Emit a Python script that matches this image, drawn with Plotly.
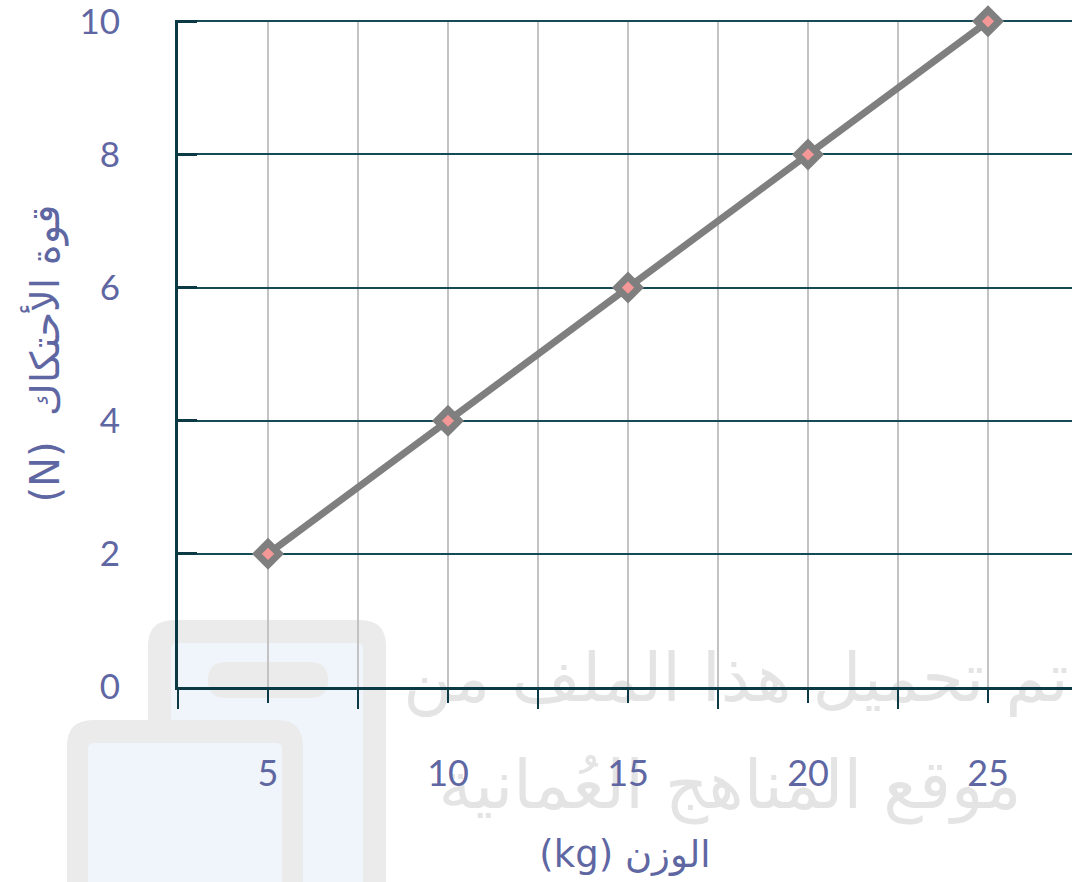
import plotly.graph_objects as go

# ---- data ----
weight_kg = [5, 10, 15, 20, 25]
friction_n = [2, 4, 6, 8, 10]
x_title = "(kg) الوزن"
y_title = "(N)  قوة الأحتكاك"
wm_line1 = "تم تحميل هذا الملف من"
wm_line2 = "موقع المناهج العُمانية"

W, H = 1072, 882
ML, MR, MT, MB = 178, 0, 20, 195
PW, PH = W - ML - MR, H - MT - MB

TEXT = "#5f67a3"
TEAL = "#164b56"
TEAL_DARK = "#0b3a44"
GRAY_GRID = "#c3c3c3"

def px(x):
    return (x - ML) / PW

def py(y):
    return (H - MB - y) / PH

def rrect(x0, y0, x1, y1, r):
    # rounded rectangle path in paper coords from pixel coords
    rx, ry = r / PW, r / PH
    X0, X1 = px(x0), px(x1)
    Y0, Y1 = py(y0), py(y1)  # Y0 top (larger), Y1 bottom
    return (f"M {X0+rx} {Y0} L {X1-rx} {Y0} Q {X1} {Y0} {X1} {Y0-ry} "
            f"L {X1} {Y1+ry} Q {X1} {Y1} {X1-rx} {Y1} L {X0+rx} {Y1} "
            f"Q {X0} {Y1} {X0} {Y1+ry} L {X0} {Y0-ry} Q {X0} {Y0} {X0+rx} {Y0} Z")

shapes = []
LOGO_GRAY = "#ebebeb"
LOGO_BLUE = "#f0f5fc"
# back logo piece
shapes.append(dict(type="path", xref="paper", yref="paper", layer="below",
                   path=rrect(148, 620, 386, 930, 26), fillcolor=LOGO_GRAY, line=dict(width=0)))
shapes.append(dict(type="path", xref="paper", yref="paper", layer="below",
                   path=rrect(171, 643, 363, 930, 6), fillcolor=LOGO_BLUE, line=dict(width=0)))
shapes.append(dict(type="path", xref="paper", yref="paper", layer="below",
                   path=rrect(208, 662, 328, 698, 18), fillcolor=LOGO_GRAY, line=dict(width=0)))
# front logo piece
shapes.append(dict(type="path", xref="paper", yref="paper", layer="below",
                   path=rrect(67, 720, 303, 930, 26), fillcolor=LOGO_GRAY, line=dict(width=0)))
shapes.append(dict(type="path", xref="paper", yref="paper", layer="below",
                   path=rrect(88, 743, 282, 930, 6), fillcolor=LOGO_BLUE, line=dict(width=0)))
# watermark text
for txt, (x0, y0, x1, y1) in [(wm_line1, (400, 623, 1072, 723)), (wm_line2, (420, 730, 1040, 830))]:
    shapes.append(dict(type="rect", xref="paper", yref="paper", layer="below",
                       x0=px(x0), x1=px(x1), y0=py(y1), y1=py(y0),
                       line=dict(width=0), fillcolor="rgba(0,0,0,0)",
                       label=dict(text=txt, font=dict(family="DejaVu Sans", size=67, color="#e4e4e4"),
                                  textposition="middle center")))

fig = go.Figure()
fig.add_trace(go.Scatter(
    x=weight_kg, y=friction_n, mode="lines+markers",
    line=dict(color="#7f7f7f", width=7),
    marker=dict(symbol="diamond", size=17, color="#f39797",
                line=dict(color="#7f7f7f", width=7)),
    cliponaxis=False, showlegend=False,
))

fig.update_layout(
    width=W, height=H,
    margin=dict(l=ML, r=MR, t=MT, b=MB, pad=0),
    paper_bgcolor="white", plot_bgcolor="white",
    font=dict(family="Lato, DejaVu Sans", color=TEXT, size=36),
    shapes=shapes,
    xaxis=dict(
        range=[2.5, 2.5 + PW / 36.0],
        tick0=0, dtick=5,
        showgrid=True, gridcolor=GRAY_GRID, gridwidth=2,
        minor=dict(dtick=2.5, tick0=0, showgrid=True, gridcolor=GRAY_GRID, gridwidth=2,
                   ticks="outside", ticklen=19, tickwidth=2, tickcolor=TEAL_DARK),
        ticks="outside", ticklen=13, tickwidth=2, tickcolor=TEAL_DARK,
        showline=True, linecolor=TEAL_DARK, linewidth=3,
        zeroline=False,
        ticklabelstandoff=40,
        tickfont=dict(size=36, color=TEXT),
        title=dict(text=x_title, font=dict(size=37, color=TEXT, family="DejaVu Sans"), standoff=48),
        automargin=False,
    ),
    yaxis=dict(
        range=[0, 10.02], tick0=0, dtick=2,
        showgrid=True, gridcolor=TEAL, gridwidth=2,
        ticks="inside", ticklen=19, tickwidth=3, tickcolor=TEAL_DARK,
        showline=True, linecolor=TEAL_DARK, linewidth=3,
        zeroline=False,
        ticklabelstandoff=48,
        ticklabeloverflow="allow",
        tickfont=dict(size=35, color=TEXT),
        title=dict(text=y_title, font=dict(size=40, color=TEXT, family="DejaVu Sans"), standoff=8),
        automargin=False,
    ),
)

fig.write_html("out.html", config={"displayModeBar": False},
               post_script="document.body.style.margin='0';document.body.style.overflow='hidden';")
